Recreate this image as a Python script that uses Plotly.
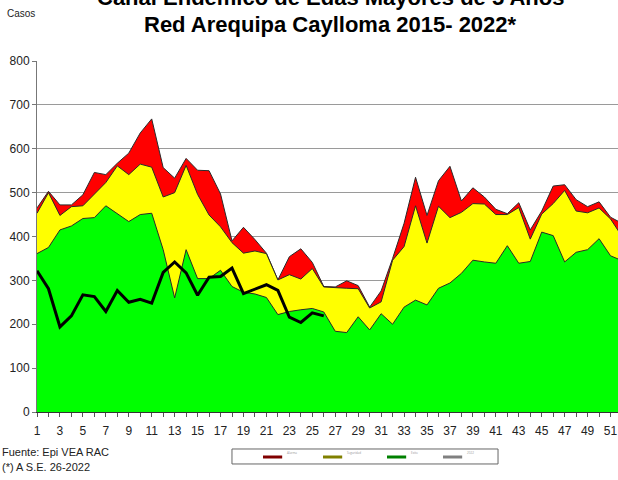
import plotly.graph_objects as go

semanas = list(range(1, 53))

# zona de alarma (limite superior)
alarma = [465, 503, 472, 472, 495, 546, 541, 567, 590, 636, 668, 557, 533, 578,
          551, 550, 497, 390, 421, 393, 362, 301, 354, 372, 341, 286, 285, 299,
          288, 239, 276, 350, 430, 535, 448, 527, 560, 481, 511, 490, 462, 452,
          477, 415, 458, 515, 518, 484, 468, 479, 444, 430]

# zona de seguridad
seguridad = [453, 500, 448, 468, 470, 497, 523, 561, 541, 565, 558, 490, 500, 562,
             496, 449, 422, 386, 362, 367, 361, 301, 313, 303, 327, 285, 283, 282,
             281, 237, 251, 346, 377, 470, 385, 469, 443, 455, 475, 474, 450, 450,
             466, 394, 451, 475, 505, 458, 454, 465, 440, 400]

# zona de exito
exito = [361, 375, 415, 424, 441, 443, 470, 453, 434, 450, 453, 370, 260, 370,
         304, 304, 323, 286, 273, 269, 261, 222, 229, 233, 236, 228, 184, 181,
         217, 187, 224, 200, 239, 255, 244, 282, 294, 316, 346, 342, 339, 379,
         339, 343, 410, 402, 342, 364, 370, 395, 356, 345]

# casos 2022 hasta la S.E. 26
casos_2022 = [322, 281, 194, 219, 267, 263, 229, 277, 250, 257, 248, 318, 342,
              317, 266, 307, 309, 328, 270, 280, 290, 277, 216, 204, 226, 219]

x_ticks = list(range(1, 53, 2))

leyenda = ["Alarma", "Seguridad", "Exito", "2022"]
leyenda_colores = ["#800000", "#808000", "#008000", "#808080"]

font_n = "Liberation Sans Narrow, Arial Narrow, Liberation Sans, Arial"
borde = dict(color="#2a2a2a", width=1)

fig = go.Figure()

fig.add_trace(go.Scatter(x=semanas, y=alarma, fill="tozeroy", mode="lines",
                         fillcolor="#ff0000", line=borde, name=leyenda[0]))
fig.add_trace(go.Scatter(x=semanas, y=seguridad, fill="tozeroy", mode="lines",
                         fillcolor="#ffff00", line=borde, name=leyenda[1]))
fig.add_trace(go.Scatter(x=semanas, y=exito, fill="tozeroy", mode="lines",
                         fillcolor="#00ff00", line=borde, name=leyenda[2]))
fig.add_trace(go.Scatter(x=semanas[:len(casos_2022)], y=casos_2022, mode="lines",
                         line=dict(color="black", width=3), name=leyenda[3]))

fig.update_xaxes(range=[1, 51.65], tickmode="array", tickvals=x_ticks,
                 ticks="outside", ticklen=4, tickcolor="#555",
                 minor=dict(tickmode="linear", tick0=1, dtick=1, ticks="outside",
                            ticklen=4, tickcolor="#555"),
                 showline=True, linecolor="#333", linewidth=1, showgrid=False,
                 automargin=False, ticklabelstandoff=4,
                 tickfont=dict(family=font_n, size=12, color="#222"))
fig.update_yaxes(range=[0, 800], dtick=100, ticks="outside", ticklen=4,
                 tickcolor="#777", showline=True, linecolor="#777", linewidth=1,
                 showgrid=True, gridcolor="#9a9a9a", gridwidth=1, automargin=False,
                 tickfont=dict(family=font_n, size=12, color="#222"))

# leyenda dibujada a mano (caja con muestras de linea)
shapes = [dict(type="rect", xref="paper", yref="paper", x0=0.3356, x1=0.7935,
               y0=-0.1481, y1=-0.1054, line=dict(color="#666", width=1))]
annotations = []
sw_x = [0.389, 0.4923, 0.6024, 0.6988]
for nombre, color, x0 in zip(leyenda, leyenda_colores, sw_x):
    shapes.append(dict(type="line", xref="paper", yref="paper", x0=x0, x1=x0 + 0.033,
                       y0=-0.1282, y1=-0.1282, line=dict(color=color, width=3)))
    annotations.append(dict(text=nombre, xref="paper", yref="paper", x=x0 + 0.038,
                            y=-0.1282, xanchor="left", showarrow=False,
                            font=dict(size=3, color="#999")))

annotations += [
    dict(text="<b>Canal Endémico de Edas Mayores de 5 Años</b>", xref="paper",
         yref="paper", x=0.506, y=1.222, showarrow=False,
         font=dict(family=font_n, size=22, color="black")),
    dict(text="<b>Red Arequipa Caylloma 2015- 2022*</b>", xref="paper",
         yref="paper", x=0.506, y=1.145, showarrow=False,
         font=dict(family=font_n, size=22, color="black")),
    dict(text="Casos", xref="paper", yref="paper", x=-0.055, y=1.156,
         xanchor="left", showarrow=False,
         font=dict(family=font_n, size=10, color="#222")),
    dict(text="Fuente: Epi VEA RAC", xref="paper", yref="paper", x=-0.064,
         y=-0.136, xanchor="left", showarrow=False,
         font=dict(family=font_n, size=11, color="#222")),
    dict(text="(*) A S.E. 26-2022", xref="paper", yref="paper", x=-0.064,
         y=-0.180, xanchor="left", showarrow=False,
         font=dict(family=font_n, size=11, color="#222")),
]

fig.update_layout(
    width=618, height=480,
    margin=dict(l=37, r=0, t=61, b=68),
    paper_bgcolor="white", plot_bgcolor="white",
    showlegend=False,
    shapes=shapes,
    annotations=annotations,
)

# sin margen de la pagina para que la figura llene la ventana
fig.write_html("out.html", config={"displayModeBar": False},
               post_script="document.body.style.margin='0px';")
